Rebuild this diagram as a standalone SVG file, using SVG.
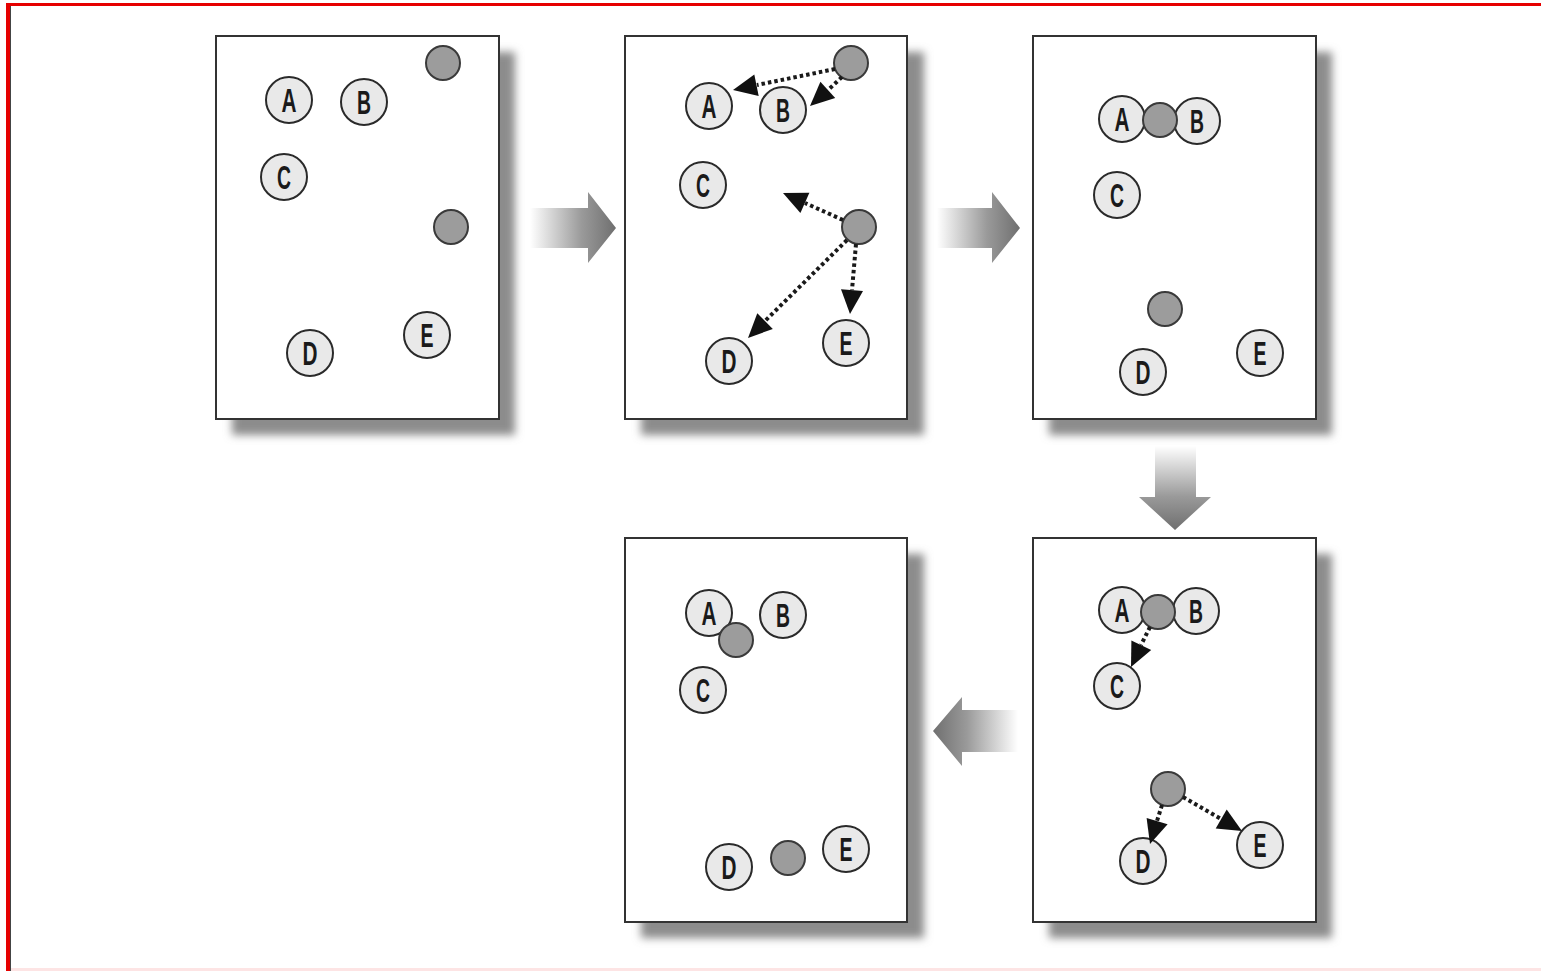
<svg xmlns="http://www.w3.org/2000/svg" width="1541" height="971" viewBox="0 0 1541 971">
<style>
.panel{fill:#fff;stroke:#333;stroke-width:2}
.shadow{fill:#8c8c8c;filter:url(#blur)}
.node{fill:#e9e9e9;stroke:#2a2a2a;stroke-width:2}
.dot{fill:#9c9c9c;stroke:#3a3a3a;stroke-width:2}
.lbl{font-family:"Liberation Sans",Arial,sans-serif;font-weight:bold;font-size:33px;fill:#1a1a1a;text-anchor:middle}
.conn{stroke:#1a1a1a;stroke-width:4;stroke-dasharray:3.5 3;fill:none}
.head{fill:#111}
</style>
<defs>
<filter id="blur" x="-10%" y="-10%" width="120%" height="120%"><feGaussianBlur stdDeviation="4"/></filter>
<linearGradient id="gR" x1="0" y1="0" x2="1" y2="0"><stop offset="0" stop-color="#fff"/><stop offset="0.6" stop-color="#9a9a9a"/><stop offset="1" stop-color="#6f6f6f"/></linearGradient>
<linearGradient id="gL" x1="1" y1="0" x2="0" y2="0"><stop offset="0" stop-color="#fff"/><stop offset="0.6" stop-color="#9a9a9a"/><stop offset="1" stop-color="#6f6f6f"/></linearGradient>
<linearGradient id="gD" x1="0" y1="0" x2="0" y2="1"><stop offset="0" stop-color="#fff"/><stop offset="0.6" stop-color="#9a9a9a"/><stop offset="1" stop-color="#6f6f6f"/></linearGradient>
</defs>
<rect width="1541" height="971" fill="#fff"/>
<g id="frame">
<line x1="6" y1="4.5" x2="1541" y2="4.5" stroke="#e60000" stroke-width="3"/>
<line x1="8" y1="3" x2="8" y2="971" stroke="#e60000" stroke-width="4"/>
<line x1="10.5" y1="6" x2="10.5" y2="971" stroke="#444" stroke-width="1"/>
<line x1="11" y1="969.5" x2="1541" y2="969.5" stroke="#fde4e4" stroke-width="3"/>
</g>

<g id="panel1">
<rect class="shadow" x="232" y="52" width="283" height="383"/>
<rect class="panel" x="216" y="36" width="283" height="383"/>
<circle class="node" cx="289" cy="100" r="23"/><text class="lbl" x="289" y="112" textLength="15" lengthAdjust="spacingAndGlyphs">A</text>
<circle class="node" cx="364" cy="102" r="23"/><text class="lbl" x="364" y="114" textLength="14" lengthAdjust="spacingAndGlyphs">B</text>
<circle class="dot" cx="443" cy="63" r="17"/>
<circle class="node" cx="284" cy="177" r="23"/><text class="lbl" x="284" y="189" textLength="14" lengthAdjust="spacingAndGlyphs">C</text>
<circle class="dot" cx="451" cy="227" r="17"/>
<circle class="node" cx="310" cy="353" r="23"/><text class="lbl" x="310" y="365" textLength="15" lengthAdjust="spacingAndGlyphs">D</text>
<circle class="node" cx="427" cy="335" r="23"/><text class="lbl" x="427" y="347" textLength="13" lengthAdjust="spacingAndGlyphs">E</text>
</g>

<g id="panel2">
<rect class="shadow" x="641" y="52" width="283" height="383"/>
<rect class="panel" x="625" y="36" width="282" height="383"/>
<circle class="node" cx="709" cy="106" r="23"/><text class="lbl" x="709" y="118" textLength="15" lengthAdjust="spacingAndGlyphs">A</text>
<circle class="node" cx="783" cy="110" r="23"/><text class="lbl" x="783" y="122" textLength="14" lengthAdjust="spacingAndGlyphs">B</text>
<circle class="dot" cx="851" cy="63" r="17"/>
<circle class="node" cx="703" cy="185" r="23"/><text class="lbl" x="703" y="197" textLength="14" lengthAdjust="spacingAndGlyphs">C</text>
<circle class="dot" cx="859" cy="227" r="17"/>
<circle class="node" cx="729" cy="361" r="23"/><text class="lbl" x="729" y="373" textLength="15" lengthAdjust="spacingAndGlyphs">D</text>
<circle class="node" cx="846" cy="343" r="23"/><text class="lbl" x="846" y="355" textLength="13" lengthAdjust="spacingAndGlyphs">E</text>
</g>

<g id="panel3">
<rect class="shadow" x="1049" y="52" width="283" height="383"/>
<rect class="panel" x="1033" y="36" width="283" height="383"/>
<circle class="node" cx="1122" cy="119" r="23"/><text class="lbl" x="1122" y="131" textLength="15" lengthAdjust="spacingAndGlyphs">A</text>
<circle class="node" cx="1197" cy="121" r="23"/><text class="lbl" x="1197" y="133" textLength="14" lengthAdjust="spacingAndGlyphs">B</text>
<circle class="dot" cx="1160" cy="120" r="17"/>
<circle class="node" cx="1117" cy="195" r="23"/><text class="lbl" x="1117" y="207" textLength="14" lengthAdjust="spacingAndGlyphs">C</text>
<circle class="dot" cx="1165" cy="309" r="17"/>
<circle class="node" cx="1143" cy="372" r="23"/><text class="lbl" x="1143" y="384" textLength="15" lengthAdjust="spacingAndGlyphs">D</text>
<circle class="node" cx="1260" cy="353" r="23"/><text class="lbl" x="1260" y="365" textLength="13" lengthAdjust="spacingAndGlyphs">E</text>
</g>

<g id="panel4">
<rect class="shadow" x="1049" y="554" width="283" height="384"/>
<rect class="panel" x="1033" y="538" width="283" height="384"/>
<circle class="node" cx="1122" cy="610" r="23"/><text class="lbl" x="1122" y="622" textLength="15" lengthAdjust="spacingAndGlyphs">A</text>
<circle class="node" cx="1196" cy="611" r="23"/><text class="lbl" x="1196" y="623" textLength="14" lengthAdjust="spacingAndGlyphs">B</text>
<circle class="dot" cx="1158" cy="612" r="17"/>
<circle class="node" cx="1117" cy="686" r="23"/><text class="lbl" x="1117" y="698" textLength="14" lengthAdjust="spacingAndGlyphs">C</text>
<circle class="dot" cx="1168" cy="789" r="17"/>
<circle class="node" cx="1143" cy="861" r="23"/><text class="lbl" x="1143" y="873" textLength="15" lengthAdjust="spacingAndGlyphs">D</text>
<circle class="node" cx="1260" cy="845" r="23"/><text class="lbl" x="1260" y="857" textLength="13" lengthAdjust="spacingAndGlyphs">E</text>
</g>

<g id="panel5">
<rect class="shadow" x="641" y="554" width="283" height="384"/>
<rect class="panel" x="625" y="538" width="282" height="384"/>
<circle class="node" cx="709" cy="613" r="23"/><text class="lbl" x="709" y="625" textLength="15" lengthAdjust="spacingAndGlyphs">A</text>
<circle class="node" cx="783" cy="615" r="23"/><text class="lbl" x="783" y="627" textLength="14" lengthAdjust="spacingAndGlyphs">B</text>
<circle class="dot" cx="736" cy="640" r="17"/>
<circle class="node" cx="703" cy="690" r="23"/><text class="lbl" x="703" y="702" textLength="14" lengthAdjust="spacingAndGlyphs">C</text>
<circle class="node" cx="729" cy="867" r="23"/><text class="lbl" x="729" y="879" textLength="15" lengthAdjust="spacingAndGlyphs">D</text>
<circle class="dot" cx="788" cy="858" r="17"/>
<circle class="node" cx="846" cy="849" r="23"/><text class="lbl" x="846" y="861" textLength="13" lengthAdjust="spacingAndGlyphs">E</text>
</g>

<g id="connectors">
<line class="conn" x1="835" y1="69" x2="757" y2="85"/>
<polygon class="head" points="733,90 754.3,74.4 758.7,96"/>
<line class="conn" x1="842" y1="77" x2="828" y2="90"/>
<polygon class="head" points="810,106 820.4,81.7 835.2,98"/>
<line class="conn" x1="843" y1="220" x2="805" y2="203"/>
<polygon class="head" points="783,193 809.4,192.8 800.4,212.9"/>
<line class="conn" x1="847" y1="240" x2="765" y2="321"/>
<polygon class="head" points="748,338 757.3,313.3 772.8,328.9"/>
<line class="conn" x1="856" y1="244" x2="852" y2="290"/>
<polygon class="head" points="850,314 841,289.2 863,291"/>
<line class="conn" x1="1150" y1="627" x2="1141" y2="645"/>
<polygon class="head" points="1131,667 1131.4,640.6 1151.2,650"/>
<line class="conn" x1="1162" y1="805" x2="1157" y2="821"/>
<polygon class="head" points="1150,844 1146.6,817.9 1167.6,824.3"/>
<line class="conn" x1="1183" y1="797" x2="1221" y2="819"/>
<polygon class="head" points="1242,831 1215.7,828.5 1226.7,809.5"/>
</g>

<g id="step-arrows">
<path d="M530,208 H588 V192 L616,228 L588,263 V248 H530 Z" fill="url(#gR)"/>
<path d="M937,208 H992 V192 L1020,228 L992,263 V248 H937 Z" fill="url(#gR)"/>
<path d="M1155,446 H1196 V497 H1211 L1175,530 L1139,497 H1155 Z" fill="url(#gD)"/>
<path d="M1018,710 H962 V697 L933,731 L962,766 V752 H1018 Z" fill="url(#gL)"/>
</g>
</svg>
